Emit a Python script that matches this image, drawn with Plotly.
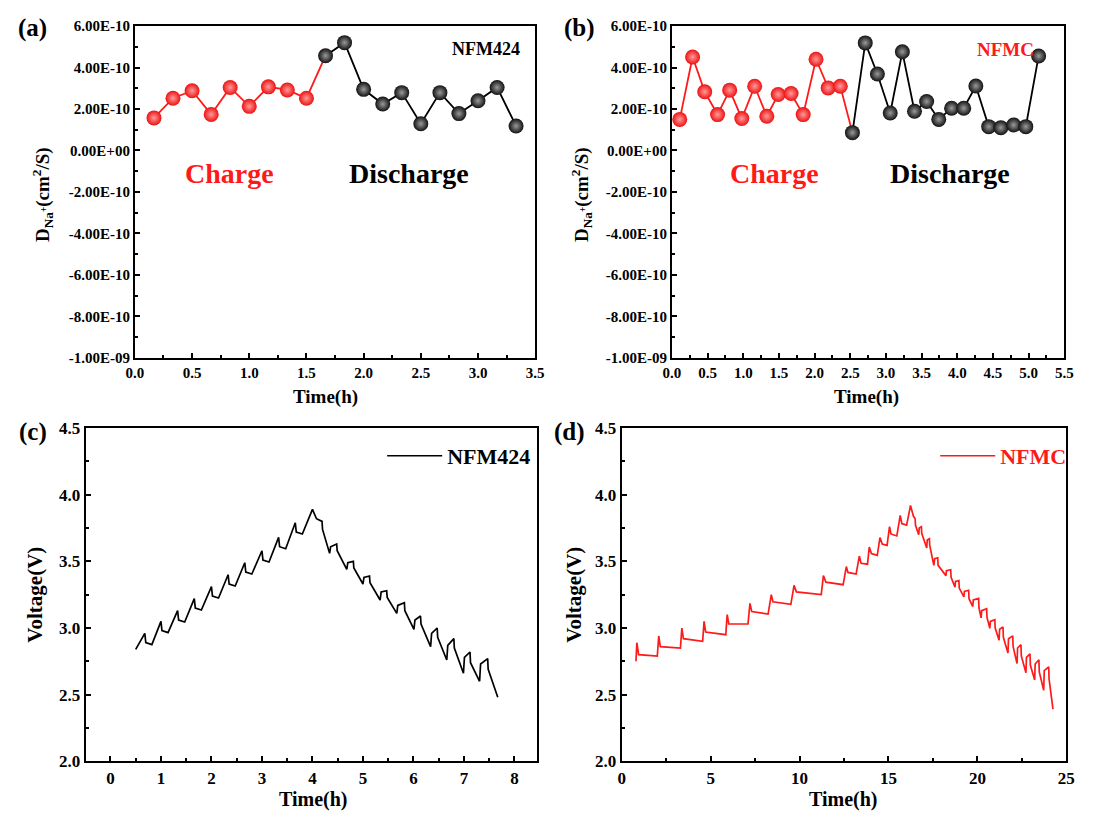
import plotly.graph_objects as go

SERIF = "Liberation Serif, Times New Roman, serif"
RED = "#ff1a1a"
W, H = 1093, 825

# ---------------- (a) NFM424 Na+ diffusion coefficient ----------------
time_a = [0.167, 0.333, 0.5, 0.667, 0.833, 1.0, 1.167, 1.333, 1.5, 1.667,
          1.833, 2.0, 2.167, 2.333, 2.5, 2.667, 2.833, 3.0, 3.167, 3.333]
dna_a = [1.57e-10, 2.52e-10, 2.88e-10, 1.74e-10, 3.04e-10, 2.13e-10, 3.07e-10,
         2.92e-10, 2.52e-10, 4.57e-10, 5.20e-10, 2.95e-10, 2.24e-10, 2.79e-10,
         1.29e-10, 2.79e-10, 1.78e-10, 2.40e-10, 3.04e-10, 1.18e-10]
charge_pts_a = 9

# ---------------- (b) NFMC Na+ diffusion coefficient ----------------
time_b = [0.11, 0.29, 0.46, 0.64, 0.81, 0.98, 1.16, 1.33, 1.49, 1.67,
          1.84, 2.02, 2.19, 2.36, 2.53, 2.71, 2.88, 3.06, 3.23, 3.40,
          3.57, 3.74, 3.92, 4.09, 4.26, 4.44, 4.61, 4.79, 4.96, 5.14]
dna_b = [1.50e-10, 4.51e-10, 2.83e-10, 1.73e-10, 2.91e-10, 1.54e-10, 3.10e-10,
         1.65e-10, 2.70e-10, 2.75e-10, 1.73e-10, 4.40e-10, 3.02e-10, 3.10e-10,
         0.86e-10, 5.19e-10, 3.69e-10, 1.81e-10, 4.76e-10, 1.89e-10, 2.36e-10,
         1.50e-10, 2.04e-10, 2.04e-10, 3.11e-10, 1.15e-10, 1.10e-10, 1.23e-10,
         1.15e-10, 4.56e-10]
charge_pts_b = 14

d_tickvals = [6e-10, 4e-10, 2e-10, 0, -2e-10, -4e-10, -6e-10, -8e-10, -1e-9]
d_ticktext = ["6.00E-10", "4.00E-10", "2.00E-10", "0.00E+00", "-2.00E-10",
              "-4.00E-10", "-6.00E-10", "-8.00E-10", "-1.00E-09"]

# ---------------- (c) NFM424 GITT voltage profile ----------------
time_c = [0.50, 0.68, 0.70, 0.82, 1.00, 1.02, 1.14, 1.33, 1.35, 1.47, 1.66, 1.68,
          1.80, 2.00, 2.02, 2.14, 2.33, 2.35, 2.47, 2.66, 2.68, 2.80, 3.00, 3.02,
          3.14, 3.33, 3.35, 3.47, 3.66, 3.68, 3.80, 4.00,
          4.08, 4.19, 4.20, 4.34, 4.36, 4.48, 4.49, 4.68, 4.70, 4.81, 4.82, 5.00,
          5.02, 5.13, 5.14, 5.34, 5.36, 5.47, 5.48, 5.67, 5.69, 5.82, 5.83, 6.01,
          6.03, 6.14, 6.15, 6.34, 6.36, 6.47, 6.48, 6.66, 6.68, 6.80, 6.81, 6.99,
          7.01, 7.12, 7.13, 7.31, 7.33, 7.47, 7.48, 7.67]
volt_c = [2.84, 2.96, 2.89, 2.875, 3.05, 2.98, 2.965, 3.13, 3.06, 3.045, 3.22, 3.15,
          3.135, 3.31, 3.24, 3.225, 3.40, 3.33, 3.315, 3.49, 3.42, 3.405, 3.58, 3.51,
          3.495, 3.68, 3.61, 3.595, 3.79, 3.72, 3.705, 3.89,
          3.82, 3.80, 3.74, 3.56, 3.61, 3.63, 3.58, 3.44, 3.49, 3.50, 3.45, 3.33,
          3.38, 3.39, 3.34, 3.21, 3.27, 3.28, 3.23, 3.11, 3.17, 3.19, 3.13, 2.99,
          3.06, 3.09, 3.03, 2.86, 2.96, 3.00, 2.93, 2.76, 2.87, 2.92, 2.85, 2.66,
          2.78, 2.82, 2.74, 2.60, 2.73, 2.77, 2.69, 2.48]

# ---------------- (d) NFMC GITT voltage profile ----------------
time_d = [0.80, 0.85, 0.95, 2.00, 2.08, 2.17, 3.30, 3.38, 3.47, 4.55, 4.63, 4.72,
          5.85, 5.93, 6.02, 7.10, 7.21, 7.31, 8.23, 8.41, 8.50, 9.51, 9.69, 9.82,
          11.22, 11.34, 11.48, 12.45, 12.63, 12.72, 13.18, 13.36, 13.46, 13.82,
          13.92, 14.04, 14.37, 14.52, 14.65, 14.92, 15.06, 15.14, 15.47, 15.66,
          15.75, 16.02, 16.24,
          16.40, 16.50, 16.52, 16.70, 16.73, 16.85, 16.87, 17.15, 17.18, 17.30,
          17.32, 17.55, 17.60, 17.77, 17.79, 18.23, 18.26, 18.50, 18.52, 18.74,
          18.77, 18.96, 18.98, 19.24, 19.27, 19.51, 19.53, 19.74, 19.77, 20.07,
          20.09, 20.21, 20.24, 20.52, 20.54, 20.70, 20.73, 20.98, 21.00, 21.22,
          21.25, 21.44, 21.46, 21.72, 21.75, 21.99, 22.01, 22.23, 22.26, 22.45,
          22.47, 22.73, 22.76, 22.96, 22.98, 23.22, 23.25, 23.46, 23.48, 23.73,
          23.76, 24.01, 24.03, 24.25]
volt_d = [2.75, 2.89, 2.80, 2.79, 2.94, 2.86, 2.85, 3.00, 2.92, 2.90, 3.05, 2.97,
          2.95, 3.10, 3.03, 3.03, 3.185, 3.124, 3.105, 3.251, 3.197, 3.178, 3.320,
          3.271, 3.251, 3.393, 3.344, 3.325, 3.461, 3.417, 3.405, 3.540, 3.486,
          3.479, 3.608, 3.559, 3.545, 3.679, 3.630, 3.620, 3.760, 3.706, 3.691,
          3.845, 3.784, 3.772, 3.919,
          3.84, 3.82, 3.77, 3.70, 3.75, 3.76, 3.71, 3.60, 3.66, 3.67,
          3.62, 3.47, 3.52, 3.527, 3.47, 3.393, 3.43, 3.437, 3.38, 3.307,
          3.35, 3.356, 3.30, 3.234, 3.275, 3.283, 3.22, 3.161, 3.21, 3.222,
          3.15, 3.076, 3.13, 3.144, 3.08, 2.997, 3.05, 3.063, 3.00, 2.909,
          2.99, 3.007, 2.93, 2.812, 2.92, 2.941, 2.86, 2.733, 2.85, 2.875,
          2.79, 2.665, 2.78, 2.806, 2.72, 2.611, 2.73, 2.762, 2.67, 2.533,
          2.68, 2.709, 2.62, 2.391]

assert len(time_a) == len(dna_a) and len(time_b) == len(dna_b)
assert len(time_c) == len(volt_c) and len(time_d) == len(volt_d)


def px_x(p):
    return p / W


def px_y(p):
    return 1 - p / H


fig = go.Figure()


def sphere(color, glow):
    return dict(size=15, color=color, line=dict(width=0),
                gradient=dict(type="radial", color=glow))


def diffusion_panel(t, d, n_charge, xa, ya):
    # red charge branch (line runs on to the first discharge point)
    fig.add_trace(go.Scatter(x=t[:n_charge + 1], y=d[:n_charge + 1], mode="lines",
                             line=dict(color=RED, width=1.8), xaxis=xa, yaxis=ya,
                             showlegend=False))
    fig.add_trace(go.Scatter(x=t[n_charge:], y=d[n_charge:], mode="lines+markers",
                             line=dict(color="black", width=1.8),
                             marker=sphere("#111111", "#9a9a9a"),
                             xaxis=xa, yaxis=ya, showlegend=False))
    fig.add_trace(go.Scatter(x=t[:n_charge], y=d[:n_charge], mode="markers",
                             marker=sphere("#ee1111", "#ff9a9a"),
                             xaxis=xa, yaxis=ya, showlegend=False))


diffusion_panel(time_a, dna_a, charge_pts_a, "x", "y")
diffusion_panel(time_b, dna_b, charge_pts_b, "x2", "y2")

fig.add_trace(go.Scatter(x=time_c, y=volt_c, mode="lines", name="NFM424",
                         line=dict(color="black", width=1.7), xaxis="x3", yaxis="y3",
                         legend="legend"))
fig.add_trace(go.Scatter(x=time_d, y=volt_d, mode="lines", name="NFMC",
                         line=dict(color=RED, width=1.7), xaxis="x4", yaxis="y4",
                         legend="legend2"))


def axis(domain, rng, size=15, **kw):
    a = dict(domain=domain, range=rng, showline=True, linecolor="black", linewidth=2,
             mirror=True, ticks="inside", ticklen=5, tickwidth=2, tickcolor="black",
             showgrid=False, zeroline=False,
             tickfont=dict(family=SERIF, size=size, color="black", weight="bold"))
    a.update(kw)
    return a


top_ab, bot_ab = 17.5, 357
top_cd, bot_cd = 429, 770

fig.update_layout(
    width=W, height=H, margin=dict(l=0, r=0, t=0, b=0),
    paper_bgcolor="white", plot_bgcolor="white",
    xaxis=axis([px_x(128), px_x(535)], [0, 3.5], anchor="y", dtick=0.5, tickformat=".1f",
               minor=dict(ticks="inside", ticklen=3, tickwidth=1.5, dtick=0.25)),
    yaxis=axis([px_y(bot_ab), px_y(top_ab)], [-1e-9, 6e-10], anchor="x",
               tickvals=d_tickvals, ticktext=d_ticktext,
               minor=dict(ticks="inside", ticklen=3, tickwidth=1.5, dtick=1e-10)),
    xaxis2=axis([px_x(674), px_x(1073)], [0, 5.5], anchor="y2", dtick=0.5, tickformat=".1f",
                minor=dict(ticks="inside", ticklen=3, tickwidth=1.5, dtick=0.25)),
    yaxis2=axis([px_y(bot_ab), px_y(top_ab)], [-1e-9, 6e-10], anchor="x2",
                tickvals=d_tickvals, ticktext=d_ticktext,
                minor=dict(ticks="inside", ticklen=3, tickwidth=1.5, dtick=1e-10)),
    xaxis3=axis([px_x(78), px_x(537)], [-0.49, 8.45], size=17, anchor="y3", dtick=1,
                minor=dict(ticks="inside", ticklen=3, tickwidth=1.5, dtick=0.5)),
    yaxis3=axis([px_y(bot_cd), px_y(top_cd)], [2.0, 4.5], size=17, anchor="x3",
                dtick=0.5, tickformat=".1f",
                minor=dict(ticks="inside", ticklen=3, tickwidth=1.5, dtick=0.25)),
    xaxis4=axis([px_x(623), px_x(1075)], [0, 25], size=17, anchor="y4", dtick=5,
                minor=dict(ticks="inside", ticklen=3, tickwidth=1.5, dtick=2.5)),
    yaxis4=axis([px_y(bot_cd), px_y(top_cd)], [2.0, 4.5], size=17, anchor="x4",
                dtick=0.5, tickformat=".1f",
                minor=dict(ticks="inside", ticklen=3, tickwidth=1.5, dtick=0.25)),
    legend=dict(x=px_x(536), y=px_y(436), xanchor="right", yanchor="top",
                bgcolor="rgba(0,0,0,0)", itemwidth=55,
                font=dict(family=SERIF, size=22, color="black", weight="bold")),
    legend2=dict(x=px_x(1080), y=px_y(436), xanchor="right", yanchor="top",
                 bgcolor="rgba(0,0,0,0)", itemwidth=55,
                 font=dict(family=SERIF, size=22, color=RED, weight="bold")),
)


def label(text, x, y, size, color="black", angle=0):
    fig.add_annotation(text=text, x=px_x(x), y=px_y(y), xref="paper", yref="paper",
                       showarrow=False, textangle=angle, xanchor="center", yanchor="middle",
                       font=dict(family=SERIF, size=size, color=color, weight="bold"))


# panel letters
label("(a)", 24, 19, 25)
label("(b)", 580, 19, 25)
label("(c)", 24, 433, 25)
label("(d)", 570, 433, 25)

# axis titles
dtitle = "D<sub>Na<sup>+</sup></sub>(cm<sup>2</sup>/S)"
label(dtitle, 34, 190, 19, angle=-90)
label(dtitle, 582, 190, 19, angle=-90)
label("Voltage(V)", 27, 600, 21, angle=-90)
label("Voltage(V)", 575, 600, 21, angle=-90)
label("Time(h)", 322, 397, 19)
label("Time(h)", 872, 397, 19)
label("Time(h)", 310, 809, 20)
label("Time(h)", 848, 809, 20)

# in-panel texts
label("NFM424", 485, 41, 18)
label("NFMC", 1013, 41, 19, color=RED)
label("Charge", 224, 168, 28, color=RED)
label("Discharge", 407, 168, 28)
label("Charge", 778, 168, 28, color=RED)
label("Discharge", 957, 168, 28)

fig.write_html("out.html")
